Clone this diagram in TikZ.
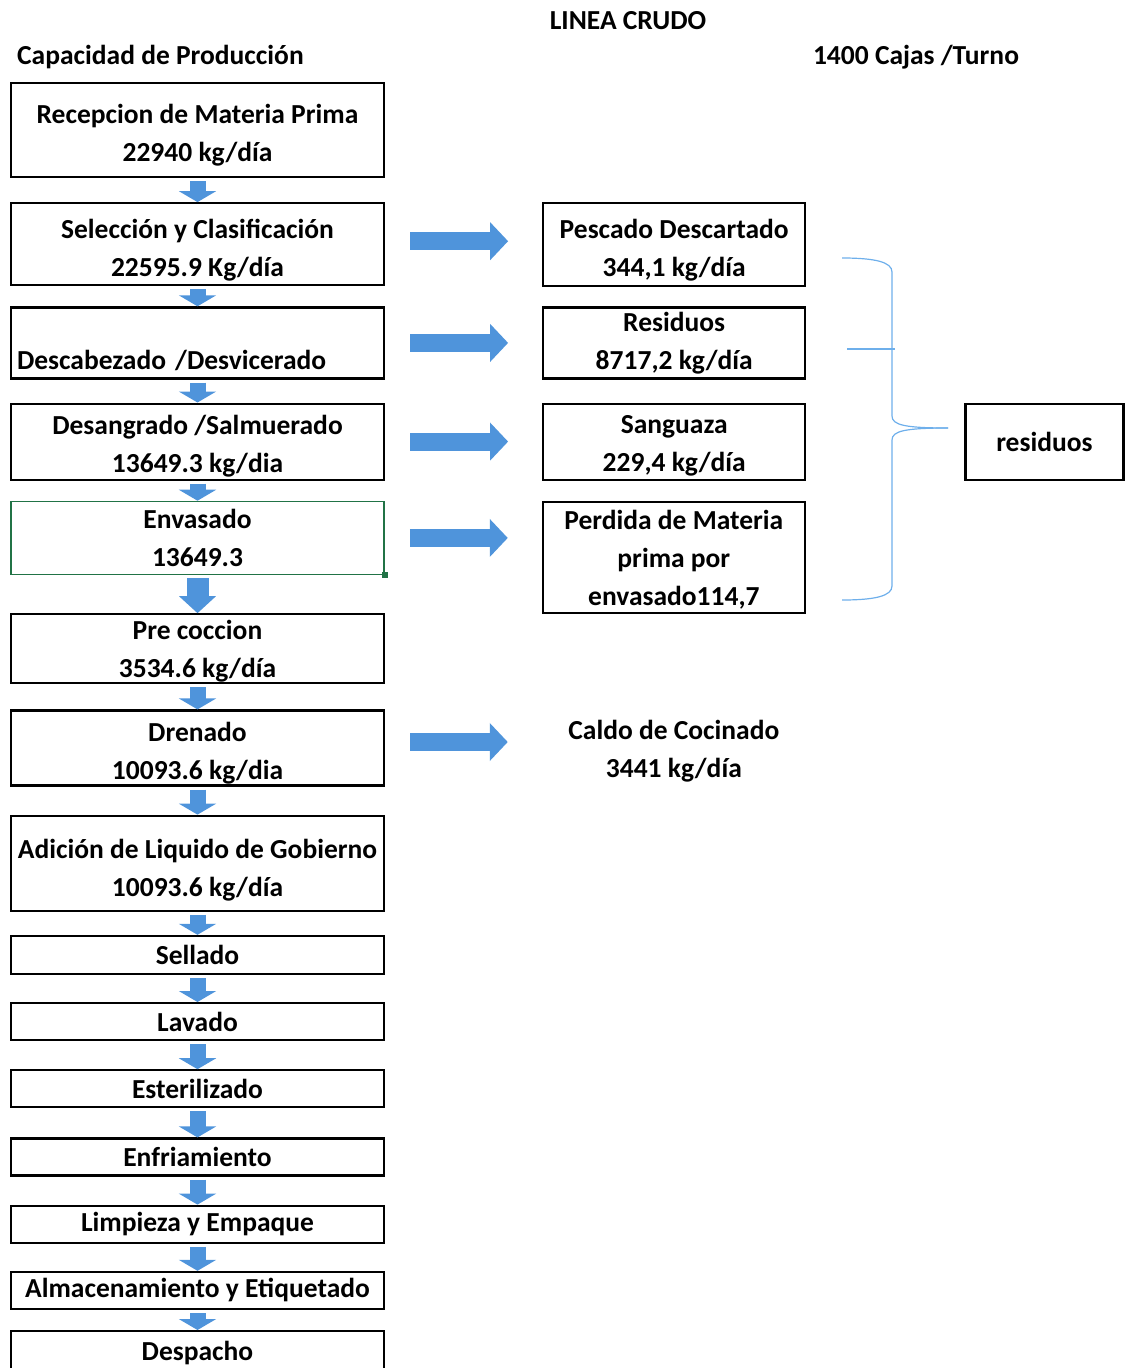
\documentclass[tikz,border=0pt]{standalone}
\usepackage{fontspec}
\setmainfont{Carlito}
\usetikzlibrary{arrows.meta,positioning}
\definecolor{flowblue}{RGB}{79,148,219}
\definecolor{bracecol}{RGB}{110,175,235}
\definecolor{selgreen}{RGB}{33,115,70}
% strut that pushes a first line down
\newcommand{\lift}[1][29pt]{\rule{0pt}{#1}}

\begin{document}
\begin{tikzpicture}[x=1pt, y=-1pt,
  font=\fontsize{27.5}{38}\selectfont\bfseries,
  box/.style={draw, line width=2.2pt, align=center, inner xsep=2pt, inner ysep=0pt, minimum width=373pt},
  sidebox/.style={draw, line width=2.2pt, align=center, inner xsep=2pt, inner ysep=0pt, minimum width=262pt},
  downarr/.style={draw=flowblue, line width=16pt, shorten <=3pt, -{Triangle[width=37pt,length=11pt]}},
  bigdown/.style={draw=flowblue, line width=22pt, shorten <=3pt, -{Triangle[width=36pt,length=17pt]}},
  rightarr/.style={draw=flowblue, line width=18pt, shorten <=25pt, shorten >=34pt, -{Triangle[width=37pt,length=18pt]}},
  brace/.style={draw=bracecol, line width=1.2pt}
]
\useasboundingbox (0,0) rectangle (1126,1368);

% headings
\node (titulo) at (628,21) {LINEA CRUDO};
\node[anchor=west, inner sep=0pt] (capac) at (17,57) {Capacidad de Producción};
\node (cajas) at (916,57) {1400 Cajas /Turno};

% main line
\node[box, minimum height=94pt] (rec) at (197.5,130) {\lift Recepcion de Materia Prima\\22940 kg/día};
\node[box, minimum height=82pt, below=24pt of rec] (sel) {\lift[31pt]Selección y Clasificación\\22595.9 Kg/día};
\node[box, minimum height=71pt, below=20pt of sel, align=left, text width=361pt] (desc) {\lift[16pt]\\Descabezado /Desvicerado};
\node[box, minimum height=76pt, below=23pt of desc] (desa) {\lift Desangrado /Salmuerado\\13649.3 kg/dia};
\node[box, draw=selgreen, line width=1.5pt, minimum height=73pt, below=20pt of desa] (env) {Envasado\\13649.3};
\node[box, minimum height=69pt, below=38pt of env] (pre) {\lift[25pt]Pre coccion\\3534.6 kg/día};
\node[box, minimum height=75pt, below=25pt of pre] (dren) {\lift Drenado\\10093.6 kg/dia};
\node[box, minimum height=95pt, below=28pt of dren] (adic) {\lift[33pt]Adición de Liquido de Gobierno\\10093.6 kg/día};
\node[box, minimum height=38pt, below=23pt of adic] (sell) {Sellado};
\node[box, minimum height=37pt, below=27pt of sell] (lav) {Lavado};
\node[box, minimum height=37pt, below=28pt of lav] (est) {Esterilizado};
\node[box, minimum height=37pt, below=29pt of est] (enf) {Enfriamiento};
\node[box, minimum height=37pt, below=28pt of enf] (limp) {Limpieza y Empaque};
\node[box, minimum height=37pt, below=27pt of limp] (alm) {Almacenamiento y Etiquetado};
\node[box, minimum height=44pt, below=20pt of alm] (desp) {Despacho};
\fill[selgreen] ([xshift=-3pt,yshift=-3pt]env.south east) rectangle ++(6,-6);

% losses
\node[sidebox, minimum height=83pt, right=157pt of sel] (pes) {\lift[31pt]Pescado Descartado\\344,1 kg/día};
\node[sidebox, minimum height=71pt, right=157pt of desc] (resd) {Residuos\\8717,2 kg/día};
\node[sidebox, minimum height=76pt, right=157pt of desa] (sang) {\lift[27pt]Sanguaza\\229,4 kg/día};
\node[sidebox, minimum height=111pt, right=157pt of env.north east, anchor=north west] (perd) {\lift[25pt]Perdida de Materia\\prima por\\envasado114,7};
\node[align=center] (caldo) at (dren -| perd) {\lift[25pt]Caldo de Cocinado\\3441 kg/día};
\node[draw, line width=2.2pt, minimum width=158pt, minimum height=76pt, right=158pt of sang] (resid) {residuos};

% flow arrows
\foreach \a/\b in {rec/sel, sel/desc, desc/desa, desa/env, pre/dren, dren/adic, adic/sell,
                   sell/lav, lav/est, est/enf, enf/limp, limp/alm, alm/desp}
  \draw[downarr] (\a) -- (\b);
\draw[bigdown] (env) -- (pre);

\draw[rightarr] ([yshift=3pt]sel.east) -- ([yshift=3pt]sel.east -| pes.west);
\draw[rightarr] (desc) -- (resd);
\draw[rightarr] (desa) -- (sang);
\draw[rightarr] (env.east) -- (env.east -| perd.west);
\draw[rightarr] ([yshift=6pt]dren.east) -- ([yshift=6pt]dren.east -| perd.west);

% brace to residuos
\coordinate (tip) at (948,428);
\draw[brace] (842,258) .. controls (875,258) and (892,262) .. (892,272) -- (892,416)
  .. controls (892,425) and (905,428) .. (tip);
\draw[brace] (tip) .. controls (905,428) and (892,431) .. (892,440) -- (892,586)
  .. controls (892,596) and (875,600) .. (842,600);
\draw[brace] (847,349) -- (895,349);
\end{tikzpicture}
\end{document}
